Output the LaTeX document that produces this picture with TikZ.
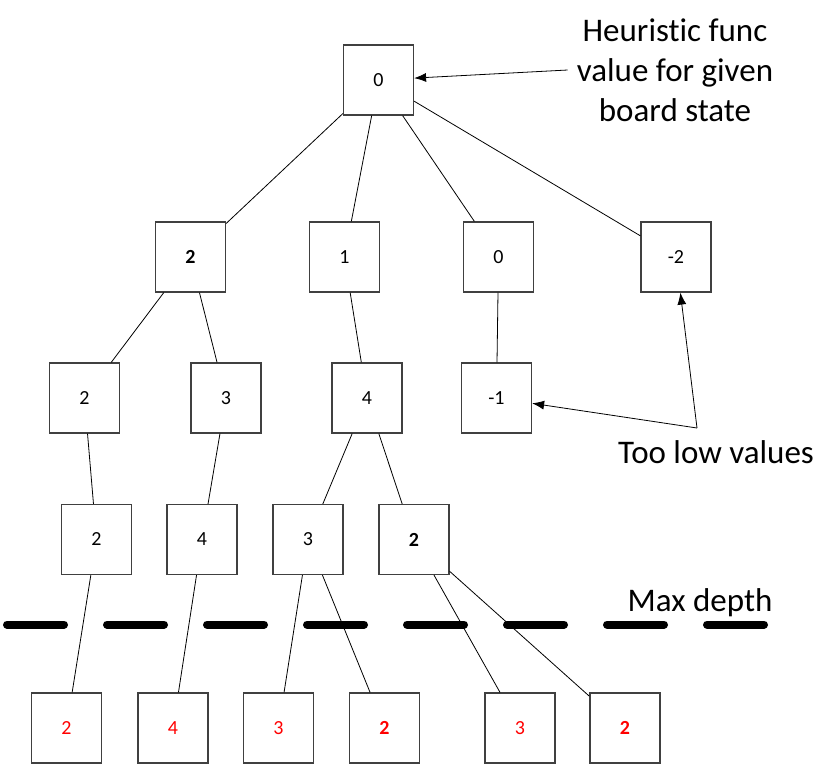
\documentclass[tikz,border=0pt]{standalone}
\usepackage{fontspec}
\setmainfont{Carlito}[Ligatures=NoCommon]
\usetikzlibrary{arrows.meta}
\tikzset{
  box/.style={draw=black!75, line width=1.2pt, minimum size=70pt, inner sep=0pt,
    font=\fontsize{20}{24}\selectfont},
  best/.style={font=\fontsize{20}{24}\selectfont\bfseries},
  leaf/.style={text=red},
  note/.style={font=\fontsize{33}{40}\selectfont, align=center, inner sep=9pt},
  pointer/.style={-{Latex[length=12pt,width=9pt]}, line width=0.8pt},
}
\begin{document}
\begin{tikzpicture}[x=1pt, y=-1pt]
  \useasboundingbox (0,0) rectangle (835,765);
  \draw[line width=8pt, line cap=round, dash pattern=on 57pt off 43pt]
    (7,624.5) -- (764,624.5);
  \draw
    (378.5,80) node[box] (0){0}
    (190.5,257) node[box,best] (1){2}
    (344.5,257) node[box] (2){1}
    (498.5,257) node[box] (3){0}
    (676,257) node[box] (4){-2}
    (84.5,398) node[box] (5){2}
    (226,398) node[box] (6){3}
    (367,398) node[box] (7){4}
    (496.5,398) node[box] (8){-1}
    (96.5,539.5) node[box] (9){2}
    (202,539.5) node[box] (10){4}
    (308,539.5) node[box] (11){3}
    (414,539.5) node[box,best] (12){2}
    (66.5,728) node[box,leaf] (13){2}
    (173,728) node[box,leaf] (14){4}
    (278.5,728) node[box,leaf] (15){3}
    (384.5,728) node[box,leaf,best] (16){2}
    (520,728) node[box,leaf] (17){3}
    (625,728) node[box,leaf,best] (18){2};
  \begin{scope}[-, line width=0.8pt]
    \draw (0) to (1);
    \draw (0) to (2);
    \draw (0) to (3);
    \draw (0) to (4);
    \draw (1) to (5);
    \draw (1) to (6);
    \draw (2) to (7);
    \draw (3) to (8);
    \draw (5) to (9);
    \draw (6) to (10);
    \draw (7) to (11);
    \draw (7) to (12);
    \draw (9) to (13);
    \draw (10) to (14);
    \draw (11) to (15);
    \draw (11) to (16);
    \draw (12) to (17);
    \draw (12) to (18);
  \end{scope}
  % notes
  \node[note] (heur) at (675,70) {Heuristic func\\value for given\\board state};
  \node[note] (toolow) at (716,452) {Too low values};
  \node[note] (maxdepth) at (700,603) {Max depth};
  \coordinate (lowpt) at (697,428);
  \draw[pointer] (heur.west) -- (0);
  \draw[pointer] (lowpt) -- (8);
  \draw[pointer] (lowpt) -- (4);
\end{tikzpicture}
\end{document}
